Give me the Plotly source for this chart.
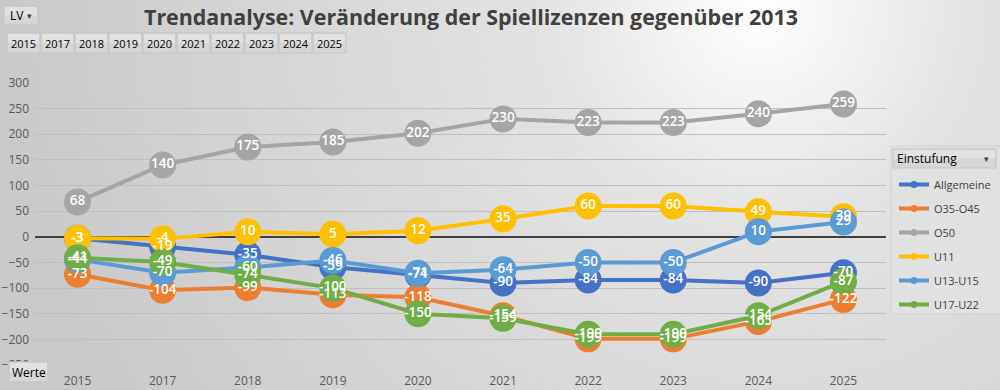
import plotly.graph_objects as go
import urllib.parse

years = ["2015", "2017", "2018", "2019", "2020", "2021", "2022", "2023", "2024", "2025"]
allgemeine = [-3, -19, -35, -59, -74, -90, -84, -84, -90, -70]
o35_o45 = [-73, -104, -99, -113, -118, -154, -199, -199, -165, -122]
o50 = [68, 140, 175, 185, 202, 230, 223, 223, 240, 259]
u11 = [-3, -4, 10, 5, 12, 35, 60, 60, 49, 39]
u13_u15 = [-44, -70, -60, -46, -71, -64, -50, -50, 10, 29]
u17_u22 = [-41, -49, -74, -100, -150, -159, -190, -190, -154, -87]

series_names = ["Allgemeine", "O35-O45", "O50", "U11", "U13-U15", "U17-U22"]
series_values = [allgemeine, o35_o45, o50, u11, u13_u15, u17_u22]
colors = ["#4472C4", "#ED7D31", "#A5A5A5", "#FFC000", "#5B9BD5", "#70AD47"]
y_ticks = [-250, -200, -150, -100, -50, 0, 50, 100, 150, 200, 250, 300]

W, H = 1000, 390
L, R, T, B = 35, 886, 83, 365
pw, ph = R - L, B - T

fig = go.Figure()

# lines + markers
for name, vals, col in zip(series_names, series_values, colors):
    fig.add_trace(go.Scatter(
        x=years, y=vals, mode="lines+markers", name=name,
        line=dict(color=col, width=4),
        marker=dict(size=27, color=col),
        cliponaxis=False, showlegend=False, hoverinfo="skip",
    ))

# data labels drawn above all series (as in Excel)
for name, vals in zip(series_names, series_values):
    fig.add_trace(go.Scatter(
        x=years, y=vals, mode="text", name=name,
        text=[str(v) for v in vals], textposition="middle center",
        textfont=dict(color="white", size=13.5, family="Open Sans", weight=600),
        cliponaxis=False, showlegend=False,
    ))

# legend entries
for i, (name, col) in enumerate(zip(series_names, colors)):
    fig.add_trace(go.Scatter(
        x=[None], y=[None], mode="lines+markers", name=name,
        line=dict(color=col, width=4), marker=dict(size=7, color=col),
        legendgroup=f"g{i}", showlegend=True,
    ))

# Background gradient
svg = (
    f'<svg xmlns="http://www.w3.org/2000/svg" width="{W}" height="{H}">'
    '<defs><radialGradient id="g" cx="760" cy="10" r="760" gradientUnits="userSpaceOnUse">'
    '<stop offset="0" stop-color="#ffffff"/>'
    '<stop offset="0.28" stop-color="#e3e3e3"/>'
    '<stop offset="1" stop-color="#c9c9c9"/>'
    '</radialGradient></defs>'
    f'<rect width="{W}" height="{H}" fill="url(#g)"/></svg>'
)
src = "data:image/svg+xml;charset=utf-8," + urllib.parse.quote(svg)
fig.add_layout_image(dict(
    source=src, xref="paper", yref="paper",
    x=-L / pw, y=B / ph, sizex=W / pw, sizey=H / ph,
    xanchor="left", yanchor="top", sizing="stretch", layer="below",
))

def px_x(x):
    return (x - L) / pw

def px_y(y):
    return (B - y) / ph

shapes = []
annotations = []

def button(x0, y0, x1, y1, label, arrow=False, fs=12, tx=None):
    shapes.append(dict(type="rect", xref="paper", yref="paper",
                       x0=px_x(x0), x1=px_x(x1), y0=px_y(y1), y1=px_y(y0),
                       fillcolor="#d6d6d6", line=dict(color="#c4c4c4", width=1), layer="above"))
    shapes.append(dict(type="rect", xref="paper", yref="paper",
                       x0=px_x(x0 + 1), x1=px_x(x1 - 1), y0=px_y((y0 + y1) / 2), y1=px_y(y0 + 1),
                       fillcolor="#e2e2e2", line=dict(width=0), layer="above"))
    annotations.append(dict(xref="paper", yref="paper",
                            x=px_x(tx if tx is not None else x0 + 4), y=px_y((y0 + y1) / 2),
                            text=label, showarrow=False, xanchor="left", yanchor="middle",
                            font=dict(size=fs, color="#000000", family="Open Sans")))
    if arrow:
        annotations.append(dict(xref="paper", yref="paper", x=px_x(x1 - 9), y=px_y((y0 + y1) / 2),
                                text="▾", showarrow=False, xanchor="center", yanchor="middle",
                                font=dict(size=9, color="#404040")))

button(4, 6, 38, 25, "LV", arrow=True, fs=12)
bx = 7
for yv in years:
    button(bx, 33, bx + 33, 53, yv, fs=11, tx=bx + 2)
    bx += 34
button(9, 362, 48, 382, "Werte", fs=12, tx=10)

# legend box + header
shapes.append(dict(type="rect", xref="paper", yref="paper",
                   x0=px_x(891), x1=px_x(1003), y0=px_y(314), y1=px_y(146),
                   fillcolor="rgba(225,225,225,0.9)", line=dict(color="#d0d0d0", width=1), layer="above"))
button(893, 149, 996, 168, "Einstufung", arrow=True, fs=12, tx=895)

fig.update_layout(
    width=W, height=H,
    margin=dict(l=L, r=W - R, t=T, b=H - B, pad=0, autoexpand=False),
    paper_bgcolor="#d4d4d4", plot_bgcolor="rgba(0,0,0,0)",
    title=dict(text="<b>Trendanalyse: Veränderung der Spiellizenzen gegenüber 2013</b>",
               x=471 / W, xanchor="center", y=1 - 18 / H, yanchor="middle",
               font=dict(size=21.4, color="#404040", family="Open Sans")),
    xaxis=dict(type="category", categoryorder="array", categoryarray=years,
               showgrid=False, showline=False, zeroline=False, automargin=False,
               tickfont=dict(size=12, color="#595959", family="Open Sans"), ticks="",
               ticklabelstandoff=7,
               range=[-0.5, len(years) - 0.5]),
    yaxis=dict(range=[-250, 300], tickvals=y_ticks, showgrid=True, gridcolor="#bfbfbf", gridwidth=1,
               zeroline=True, zerolinecolor="#404040", zerolinewidth=2, showline=False,
               automargin=False,
               tickfont=dict(size=12, color="#595959", family="Open Sans"), ticks="",
               ticklabelstandoff=5),
    legend=dict(x=px_x(894), y=px_y(170), xanchor="left", yanchor="top",
                bgcolor="rgba(0,0,0,0)", font=dict(size=11, color="#404040", family="Open Sans"),
                tracegroupgap=5, itemwidth=30),
    shapes=shapes, annotations=annotations,
)

fig.write_html("out.html", config={"displayModeBar": False},
               post_script="document.body.style.margin='0';document.body.style.overflow='hidden';")
